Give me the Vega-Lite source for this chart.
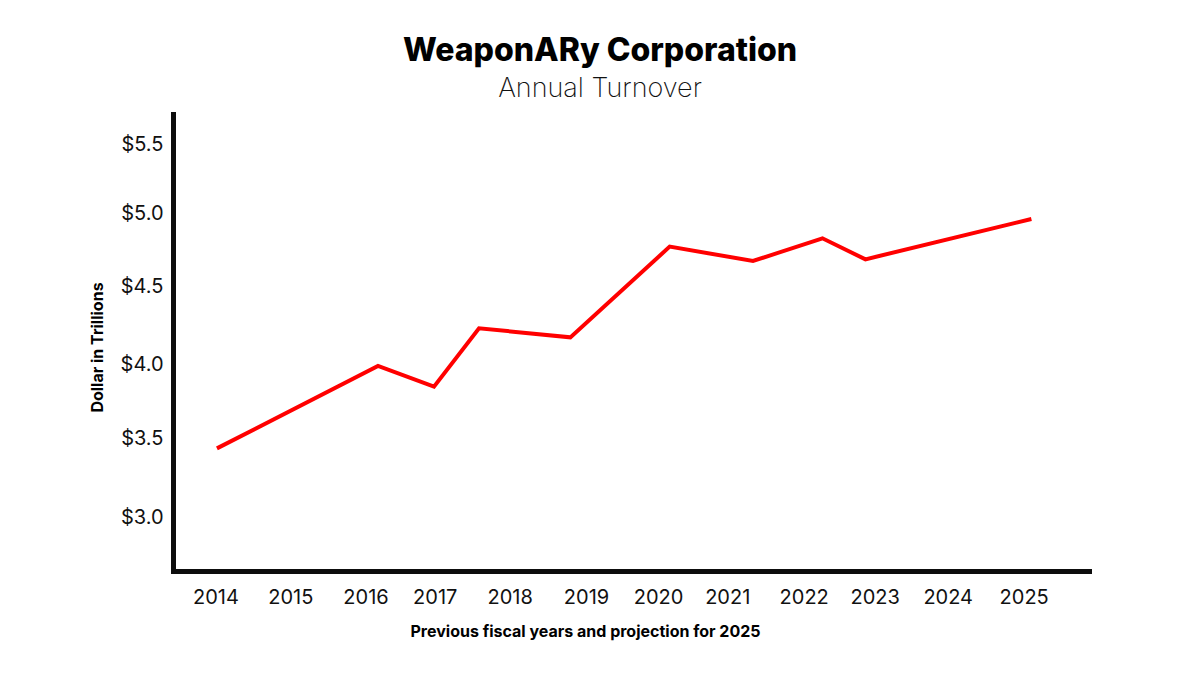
{
  "$schema": "https://vega.github.io/schema/vega-lite/v6.json",
  "width": 916,
  "height": 457,
  "autosize": {"type": "none"},
  "padding": {"left": 173, "top": 114, "right": 111, "bottom": 104},
  "background": "white",
  "title": {
    "text": "WeaponARy Corporation",
    "subtitle": "Annual Turnover",
    "anchor": "middle",
    "dx": -31,
    "offset": 11,
    "font": "Inter",
    "fontSize": 32,
    "fontWeight": 800,
    "color": "#000000",
    "subtitleFont": "Inter",
    "subtitleFontSize": 27,
    "subtitleFontWeight": 200,
    "subtitleColor": "#111111",
    "subtitlePadding": 8
  },
  "data": {
    "values": [
      {"year": 2014.02, "turnover": 3.462},
      {"year": 2016.212, "turnover": 4.014},
      {"year": 2016.974, "turnover": 3.875},
      {"year": 2017.587, "turnover": 4.267},
      {"year": 2018.83, "turnover": 4.206},
      {"year": 2020.182, "turnover": 4.814},
      {"year": 2021.316, "turnover": 4.718},
      {"year": 2022.261, "turnover": 4.87},
      {"year": 2022.846, "turnover": 4.729},
      {"year": 2025.105, "turnover": 4.999}
    ]
  },
  "mark": {"type": "line", "color": "#ff0000", "strokeWidth": 4},
  "encoding": {
    "x": {
      "field": "year",
      "type": "quantitative",
      "scale": {"domain": [2013.422, 2025.889], "nice": false, "zero": false},
      "axis": {
        "title": "Previous fiscal years and projection for 2025",
        "values": [2014, 2015.019, 2016.042, 2016.984, 2018.004, 2019.043, 2020.023, 2020.965, 2022.006, 2022.972, 2023.966, 2025],
        "labelExpr": "format(round(datum.value), 'd')",
        "grid": false,
        "ticks": false,
        "tickSize": 0,
        "domainColor": "#0d0d0d",
        "domainWidth": 5,
        "domainCap": "square",
        "labelFont": "Inter",
        "labelFontSize": 20,
        "labelColor": "#111111",
        "labelPadding": 16,
        "labelFlush": false,
        "labelOverlap": false,
        "titleFont": "Inter",
        "titleFontSize": 16,
        "titleFontWeight": "bold",
        "titleColor": "#000000",
        "titleX": 412,
        "titlePadding": 16
      }
    },
    "y": {
      "field": "turnover",
      "type": "quantitative",
      "scale": {"domain": [2.64, 5.703], "nice": false, "zero": false},
      "axis": {
        "title": "Dollar in Trillions",
        "values": [3.0, 3.529, 4.021, 4.55, 5.0375, 5.5],
        "labelExpr": "'$' + format(round(datum.value * 2) / 2, '.1f')",
        "grid": false,
        "ticks": false,
        "tickSize": 0,
        "domainColor": "#0d0d0d",
        "domainWidth": 5,
        "domainCap": "square",
        "labelFont": "Inter",
        "labelFontSize": 20,
        "labelColor": "#111111",
        "labelPadding": 10,
        "labelFlush": false,
        "labelOverlap": false,
        "titleFont": "Inter",
        "titleFontSize": 16,
        "titleFontWeight": "bold",
        "titleColor": "#000000",
        "titlePadding": 15,
        "titleY": 233
      }
    }
  },
  "config": {"view": {"stroke": null}}
}
